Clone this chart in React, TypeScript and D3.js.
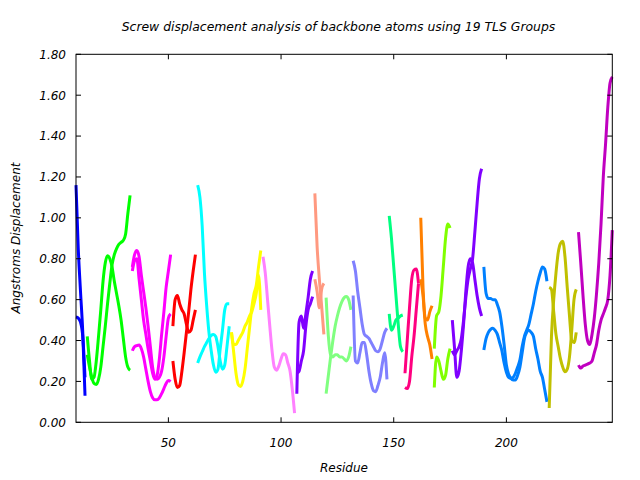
import React from "react";
import * as d3 from "d3";

const titleText = "Screw displacement analysis of backbone atoms using 19 TLS Groups";
const xLabel = "Residue";
const yLabel = "Angstroms Displacement";
const xDomain = [9, 247];
const yDomain = [0, 1.8];
const xTicks = [50, 100, 150, 200];
const yTicks = [0, 0.2, 0.4, 0.6, 0.8, 1.0, 1.2, 1.4, 1.6, 1.8];

// first residue of each TLS group
const groupStarts = [9, 14, 34, 52, 63, 78, 92, 107, 115, 120, 132, 148, 155, 162, 168, 176, 190, 219, 232];
const groupColors = [
  "#0000ff", "#00ff00", "#ff00ff", "#ff0000", "#00ffff", "#ffff00", "#ff80ff",
  "#8000ff", "#ff9980", "#80ff80", "#8080ff", "#00ff80", "#ff0080", "#ff8000",
  "#80ff00", "#8000ff", "#0080ff", "#c0c000", "#c000c0",
];

const g01a = [1.16, 0.85, 0.64, 0.44, 0.13];
const g01b = [0.515, 0.51, 0.49, 0.42, 0.22];
const g02a = [0.42, 0.3, 0.21, 0.22, 0.3, 0.42, 0.55, 0.69, 0.78, 0.815, 0.8, 0.76, 0.69, 0.63, 0.57, 0.5, 0.41, 0.32, 0.27, 0.255];
const g02b = [0.33, 0.27, 0.22, 0.19, 0.185, 0.21, 0.27, 0.37, 0.47, 0.58, 0.68, 0.77, 0.82, 0.85, 0.87, 0.88, 0.89, 0.92, 1.02, 1.11];
const g03a = [0.76, 0.82, 0.84, 0.81, 0.72, 0.64, 0.56, 0.47, 0.37, 0.27, 0.22, 0.21, 0.22, 0.25, 0.32, 0.42, 0.51, 0.53];
const g03b = [0.74, 0.79, 0.8, 0.7, 0.6, 0.5, 0.43, 0.36, 0.3, 0.24, 0.21, 0.23, 0.31, 0.43, 0.54, 0.66, 0.74, 0.82];
const g03c = [0.35, 0.37, 0.375, 0.378, 0.36, 0.32, 0.26, 0.2, 0.15, 0.12, 0.11, 0.11, 0.12, 0.14, 0.165, 0.19, 0.205, 0.2];
const g04a = [0.3, 0.21, 0.17, 0.18, 0.25, 0.34, 0.44, 0.54, 0.65, 0.74, 0.82];
const g04b = [0.47, 0.6, 0.62, 0.58, 0.55, 0.53, 0.48, 0.44, 0.45, 0.5, 0.55];
const g05a = [1.16, 1.1, 0.96, 0.73, 0.57, 0.44, 0.35, 0.28, 0.245, 0.26, 0.36, 0.45, 0.55, 0.58, 0.58];
const g05b = [0.29, 0.32, 0.345, 0.37, 0.39, 0.41, 0.425, 0.43, 0.42, 0.37, 0.3, 0.26, 0.28, 0.37, 0.47];
const g06a = [0.44, 0.34, 0.24, 0.185, 0.175, 0.2, 0.26, 0.36, 0.46, 0.56, 0.63, 0.67, 0.76, 0.84];
const g06b = [0.44, 0.38, 0.38, 0.4, 0.42, 0.44, 0.47, 0.49, 0.52, 0.54, 0.58, 0.63, 0.72, 0.55];
const g07a = [0.81, 0.73, 0.6, 0.47, 0.35, 0.27, 0.255, 0.275, 0.31, 0.335, 0.33, 0.29, 0.25, 0.16, 0.045];
const g08a = [0.14, 0.49, 0.52, 0.46, 0.53, 0.61, 0.7, 0.74];
const g08b = [0.24, 0.25, 0.3, 0.35, 0.47, 0.55, 0.58, 0.615];
const g09a = [1.12, 0.86, 0.7, 0.57, 0.43];
const g09b = [0.7, 0.64, 0.56, 0.65, 0.68];
const g10a = [0.14, 0.23, 0.32, 0.4, 0.47, 0.52, 0.56, 0.59, 0.61, 0.615, 0.6, 0.55];
const g10b = [0.61, 0.42, 0.33, 0.32, 0.33, 0.33, 0.32, 0.32, 0.31, 0.3, 0.32, 0.37];
const g11a = [0.79, 0.74, 0.64, 0.56, 0.48, 0.43, 0.42, 0.41, 0.39, 0.37, 0.35, 0.345, 0.36, 0.4, 0.44, 0.46];
const g11b = [0.62, 0.3, 0.29, 0.34, 0.39, 0.39, 0.33, 0.25, 0.19, 0.155, 0.15, 0.18, 0.22, 0.29, 0.34, 0.21];
const g12a = [1.01, 0.9, 0.76, 0.62, 0.48, 0.37, 0.345];
const g12b = [0.53, 0.45, 0.47, 0.5, 0.51, 0.52, 0.525];
const g13a = [0.24, 0.4, 0.56, 0.7, 0.745, 0.75, 0.68];
const g13b = [0.17, 0.165, 0.2, 0.32, 0.42, 0.55, 0.68];
const g14a = [1.0, 0.66, 0.51, 0.5, 0.54, 0.57];
const g14b = [0.7, 0.62, 0.48, 0.42, 0.38, 0.31];
const g15a = [0.17, 0.32, 0.3, 0.25, 0.21, 0.23, 0.31, 0.36];
const g15b = [0.36, 0.52, 0.54, 0.62, 0.76, 0.9, 0.97, 0.95];
const g16a = [0.5, 0.36, 0.22, 0.25, 0.35, 0.48, 0.64, 0.76, 0.8, 0.78, 0.7, 0.62, 0.56, 0.52];
const g16b = [0.35, 0.33, 0.35, 0.37, 0.41, 0.5, 0.61, 0.7, 0.75, 0.8, 0.93, 1.07, 1.19, 1.24];
const g17a = [0.76, 0.63, 0.605, 0.605, 0.6, 0.6, 0.575, 0.54, 0.47, 0.38, 0.28, 0.235, 0.215, 0.207, 0.207, 0.23, 0.27, 0.34, 0.41, 0.44, 0.45, 0.44, 0.42, 0.36, 0.31, 0.25, 0.22, 0.16, 0.1];
const g17b = [0.354, 0.41, 0.44, 0.455, 0.46, 0.45, 0.43, 0.39, 0.35, 0.29, 0.245, 0.22, 0.215, 0.22, 0.24, 0.27, 0.305, 0.37, 0.42, 0.45, 0.48, 0.53, 0.58, 0.64, 0.69, 0.73, 0.76, 0.75, 0.69];
const g18a = [0.07, 0.42, 0.6, 0.73, 0.83, 0.875, 0.885, 0.81, 0.66, 0.52, 0.4, 0.39, 0.44];
const g18b = [0.66, 0.65, 0.54, 0.43, 0.37, 0.31, 0.27, 0.247, 0.26, 0.32, 0.45, 0.6, 0.65];
const g19a = [0.93, 0.78, 0.62, 0.48, 0.4, 0.38, 0.43, 0.51, 0.63, 0.78, 0.97, 1.2, 1.36, 1.54, 1.66, 1.69];
const g19b = [0.28, 0.265, 0.275, 0.28, 0.285, 0.29, 0.3, 0.34, 0.38, 0.45, 0.5, 0.53, 0.56, 0.6, 0.72, 0.94];

const groupCurves = [
  [g01a, g01b], [g02a, g02b], [g03a, g03b, g03c], [g04a, g04b], [g05a, g05b],
  [g06a, g06b], [g07a], [g08a, g08b], [g09a, g09b], [g10a, g10b], [g11a, g11b],
  [g12a, g12b], [g13a, g13b], [g14a, g14b], [g15a, g15b], [g16a, g16b],
  [g17a, g17b], [g18a, g18b], [g19a, g19b],
];

const FONT = "'DejaVu Sans', Verdana, sans-serif";

export default function App() {
  const left = 76, right = 612.3, top = 54.3, bottom = 422.3;
  const x = d3.scaleLinear().domain(xDomain).range([left, right]);
  const y = d3.scaleLinear().domain(yDomain).range([bottom, top]);
  const line = d3
    .line<[number, number]>()
    .x((d) => x(d[0]))
    .y((d) => y(d[1]))
    .curve(d3.curveMonotoneX);
  const tick = 5;

  const paths: React.ReactNode[] = [];
  groupCurves.forEach((curves, gi) => {
    curves.forEach((vals, ci) => {
      const pts = vals.map((v, i) => [groupStarts[gi] + i, v] as [number, number]);
      paths.push(
        <path
          key={`g${gi}c${ci}`}
          d={line(pts) || ""}
          fill="none"
          stroke={groupColors[gi]}
          strokeWidth={3}
          strokeLinejoin="round"
        />
      );
    });
  });

  return (
    <svg
      width={640}
      height={480}
      style={{ position: "absolute", left: 0, top: 0, display: "block", background: "#fff" }}
      fontFamily={FONT}
    >
      <rect x={0} y={0} width={640} height={480} fill="#fff" />
      <text x={338.5} y={31} textAnchor="middle" fontSize={12.4} fontStyle="italic" fill="#000">
        {titleText}
      </text>
      {paths}
      <rect x={left} y={top} width={right - left} height={bottom - top} fill="none" stroke="#000" strokeWidth={1} />
      {yTicks.map((t) => (
        <g key={`y${t}`}>
          <line x1={left} x2={left + tick} y1={y(t)} y2={y(t)} stroke="#000" />
          <line x1={right - tick} x2={right} y1={y(t)} y2={y(t)} stroke="#000" />
          <text x={66} y={y(t)} dy="0.36em" textAnchor="end" fontSize={12} fontStyle="italic" fill="#000">
            {t.toFixed(2)}
          </text>
        </g>
      ))}
      {xTicks.map((t) => (
        <g key={`x${t}`}>
          <line x1={x(t)} x2={x(t)} y1={bottom} y2={bottom - tick} stroke="#000" />
          <line x1={x(t)} x2={x(t)} y1={top} y2={top + tick} stroke="#000" />
          <text x={x(t)} y={447} textAnchor="middle" fontSize={12} fontStyle="italic" fill="#000">
            {t}
          </text>
        </g>
      ))}
      <text x={344} y={472} textAnchor="middle" fontSize={12} fontStyle="italic" fill="#000">
        {xLabel}
      </text>
      <text
        transform="translate(20,238) rotate(-90)"
        textAnchor="middle"
        fontSize={12}
        fontStyle="italic"
        fill="#000"
      >
        {yLabel}
      </text>
    </svg>
  );
}
